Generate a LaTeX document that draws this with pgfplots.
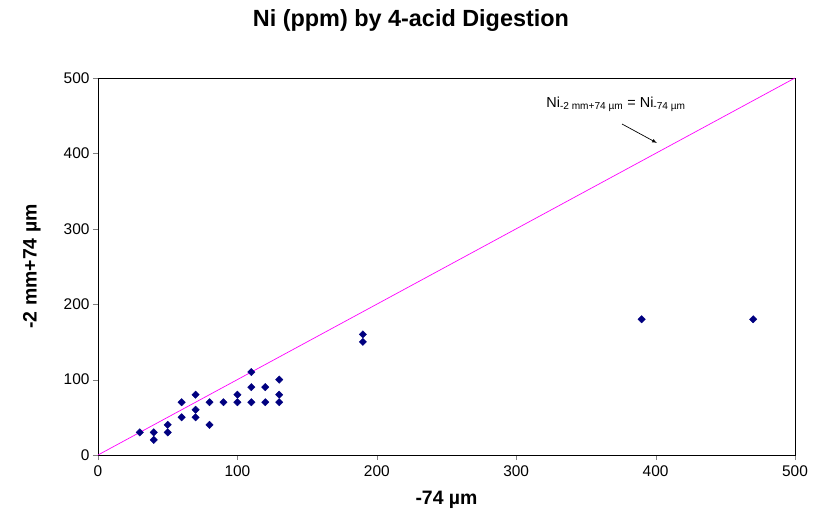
\documentclass[border=0pt]{standalone}
\usepackage{pgfplots}
\pgfplotsset{compat=1.18}
\usepackage{fontspec}
\setmainfont{Liberation Sans}
\definecolor{navy}{RGB}{0,0,128}
\definecolor{mag}{RGB}{255,0,255}
\begin{document}
\begin{tikzpicture}
\useasboundingbox (-98bp,-61bp) rectangle (724bp,455bp);
\begin{axis}[
  scale only axis, width=697bp, height=377bp,
  xmin=0, xmax=500, ymin=0, ymax=500,
  xtick={0,100,...,500}, ytick={0,100,...,500},
  tick pos=left, tick align=outside,
  major tick length=5bp,
  /pgf/number format/assume math mode=true,
  tick label style={font=\fontsize{15.5}{18}\selectfont},
  xticklabel style={yshift=-2bp},
  xlabel={\textbf{-74 µm}}, ylabel={\textbf{-2 mm+74 µm}},
  label style={font=\fontsize{19.5}{22}\selectfont},
  xlabel style={at={(axis description cs:0.5,-0.12)}, anchor=center},
  ylabel style={at={(axis description cs:-0.095,0.5)}, anchor=center},
  title={\textbf{Ni (ppm) by 4-acid Digestion}},
  title style={font=\fontsize{23.5}{27}\selectfont, at={(axis description cs:0.449,1)}, anchor=center, yshift=52bp},
  axis line style={black},
  clip=false,
]
\addplot[mag, line width=0.7pt] coordinates {(0,0) (500,500)};
\addplot[only marks, mark=square*, mark options={rotate=45}, mark size=2.6bp, color=navy] coordinates {
(30,30) (40,30) (40,20) (50,40) (50,30) (60,70) (60,50) (70,80) (70,60) (70,50)
(80,70) (80,40) (90,70) (100,80) (100,70) (110,110) (110,90) (110,70)
(120,90) (120,70) (130,100) (130,80) (130,70)
(190,160) (190,150) (390,180) (470,180)
};
\node[font=\fontsize{14.5}{17}\selectfont] at (axis cs:371.6,465.5) {Ni\textsubscript{-2 mm+74 µm} = Ni\textsubscript{-74 µm}};
\draw[-latex, line width=0.7pt] (axis cs:375.9,439) -- (axis cs:401,413.8);
\end{axis}
\end{tikzpicture}
\end{document}
